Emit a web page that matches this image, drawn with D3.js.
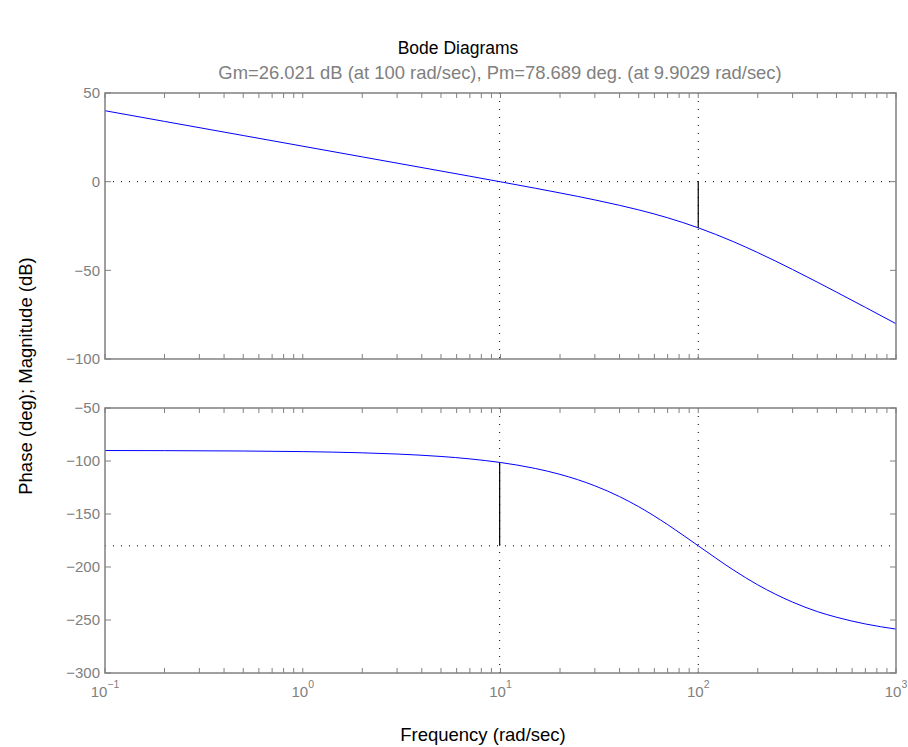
<!DOCTYPE html>
<html><head><meta charset="utf-8">
<script src="https://cdn.jsdelivr.net/npm/d3@7"></script>
<style>
html,body{margin:0;padding:0;background:#fff;}
svg{display:block;font-family:"Liberation Sans",Arial,Helvetica,sans-serif;}
</style></head>
<body>
<svg id="c" width="908" height="747"></svg>
<script>
// ---- data ----
const freq     = [0.1, 0.2, 0.5, 1, 2, 3, 5, 7, 10, 15, 20, 30, 40, 50, 70, 100, 150, 200, 300, 400, 500, 700, 1000];
const magDb    = [40.00, 33.98, 26.02, 20.00, 13.98, 10.45, 6.00, 3.08, -0.09, -3.71, -6.36, -10.29, -13.34, -15.92, -20.36, -26.02, -33.76, -40.00, -49.54, -56.65, -62.28, -70.88, -80.09];
const phaseDeg = [-90.11, -90.23, -90.57, -91.15, -92.29, -93.44, -95.72, -98.01, -101.42, -107.06, -112.62, -123.40, -133.60, -143.13, -159.98, -180.00, -202.62, -216.87, -233.13, -242.06, -247.38, -253.74, -258.58];
const magTicks   = [-100, -50, 0, 50];
const phaseTicks = [-300, -250, -200, -150, -100, -50];
const decadeTicks = [0.1, 1, 10, 100, 1000];
const decadeExp   = ["\u22121", "0", "1", "2", "3"];
const gmFreq = 100, gmMag = -26.021, pmFreq = 9.9029, pmPhase = -101.31;
const title = "Bode Diagrams";
const subtitle = "Gm=26.021 dB (at 100 rad/sec), Pm=78.689 deg. (at 9.9029 rad/sec)";
const xLabel = "Frequency (rad/sec)";
const yLabel = "Phase (deg); Magnitude (dB)";

// ---- layout ----
const svg = d3.select("#c");
const L = 105, R = 896;
const x = d3.scaleLog().domain([0.1, 1000]).range([L, R]);
const yMag = d3.scaleLinear().domain([-100, 50]).range([359, 93]);
const yPh  = d3.scaleLinear().domain([-300, -50]).range([673, 408]);
const axisCol = "#808080", txtCol = "#808080";

const minorTicks = [];
for (const d of [0.1, 1, 10, 100]) for (let k = 2; k <= 9; k++) minorTicks.push(d * k);

function panel(y, yticks, data, hLine, blackX, blackY0, blackY1, showX) {
  const g = svg.append("g");
  const [y0, y1] = y.range(); // bottom, top
  g.append("line").attr("x1", L).attr("x2", R).attr("y1", y(hLine)).attr("y2", y(hLine))
    .attr("stroke", "#000").attr("stroke-dasharray", "1,7").attr("stroke-width", 1);
  for (const f of [pmFreq, gmFreq]) {
    g.append("line").attr("x1", x(f)).attr("x2", x(f)).attr("y1", y1).attr("y2", y0)
      .attr("stroke", "#000").attr("stroke-dasharray", "1,7").attr("stroke-width", 1);
  }
  const line = d3.line().x((d, i) => x(freq[i])).y(d => y(d)).curve(d3.curveMonotoneX);
  g.append("path").datum(data).attr("d", line).attr("fill", "none").attr("stroke", "#0000ff").attr("stroke-width", 1);
  g.append("line").attr("x1", x(blackX)).attr("x2", x(blackX)).attr("y1", y(blackY0)).attr("y2", y(blackY1))
    .attr("stroke", "#000").attr("stroke-width", 1.2);
  g.append("rect").attr("x", L).attr("y", y1).attr("width", R - L).attr("height", y0 - y1)
    .attr("fill", "none").attr("stroke", axisCol).attr("stroke-width", 1.5);
  const xt = decadeTicks.concat(minorTicks);
  g.selectAll(".xtb").data(xt).enter().append("line")
    .attr("x1", d => x(d)).attr("x2", d => x(d)).attr("y1", y0).attr("y2", y0 - 5)
    .attr("stroke", axisCol);
  g.selectAll(".xtt").data(xt).enter().append("line")
    .attr("x1", d => x(d)).attr("x2", d => x(d)).attr("y1", y1).attr("y2", y1 + 5)
    .attr("stroke", axisCol);
  g.selectAll(".ytl").data(yticks).enter().append("line")
    .attr("x1", L).attr("x2", L + 6).attr("y1", d => y(d)).attr("y2", d => y(d)).attr("stroke", axisCol);
  g.selectAll(".ytr").data(yticks).enter().append("line")
    .attr("x1", R).attr("x2", R - 6).attr("y1", d => y(d)).attr("y2", d => y(d)).attr("stroke", axisCol);
  const fmt = d3.format("d");
  g.selectAll(".ylab").data(yticks).enter().append("text")
    .attr("x", L - 5).attr("y", d => y(d)).attr("dy", "0.35em").attr("text-anchor", "end")
    .attr("font-size", 15).attr("fill", txtCol).text(d => fmt(d));
  if (showX) {
    decadeTicks.forEach((d, i) => {
      const t = g.append("text").attr("x", x(d)).attr("y", y0 + 24).attr("text-anchor", "middle")
        .attr("font-size", 15).attr("fill", txtCol);
      t.append("tspan").text("10");
      t.append("tspan").attr("dy", -9).attr("font-size", 10.5).text(decadeExp[i]);
    });
  }
}

panel(yMag, magTicks, magDb, 0, gmFreq, 0, gmMag, false);
panel(yPh, phaseTicks, phaseDeg, -180, pmFreq, pmPhase, -180, true);

svg.append("text").attr("x", 458).attr("y", 54).attr("text-anchor", "middle")
  .attr("font-size", 17.5).attr("fill", "#000").text(title);
svg.append("text").attr("x", 500).attr("y", 79).attr("text-anchor", "middle")
  .attr("font-size", 18.4).attr("fill", txtCol).text(subtitle);
svg.append("text").attr("x", 483).attr("y", 741).attr("text-anchor", "middle")
  .attr("font-size", 18.5).attr("fill", "#000").text(xLabel);
svg.append("text").attr("transform", "translate(32,376) rotate(-90)").attr("text-anchor", "middle")
  .attr("font-size", 18.5).attr("fill", "#000").text(yLabel);
</script>
</body></html>
